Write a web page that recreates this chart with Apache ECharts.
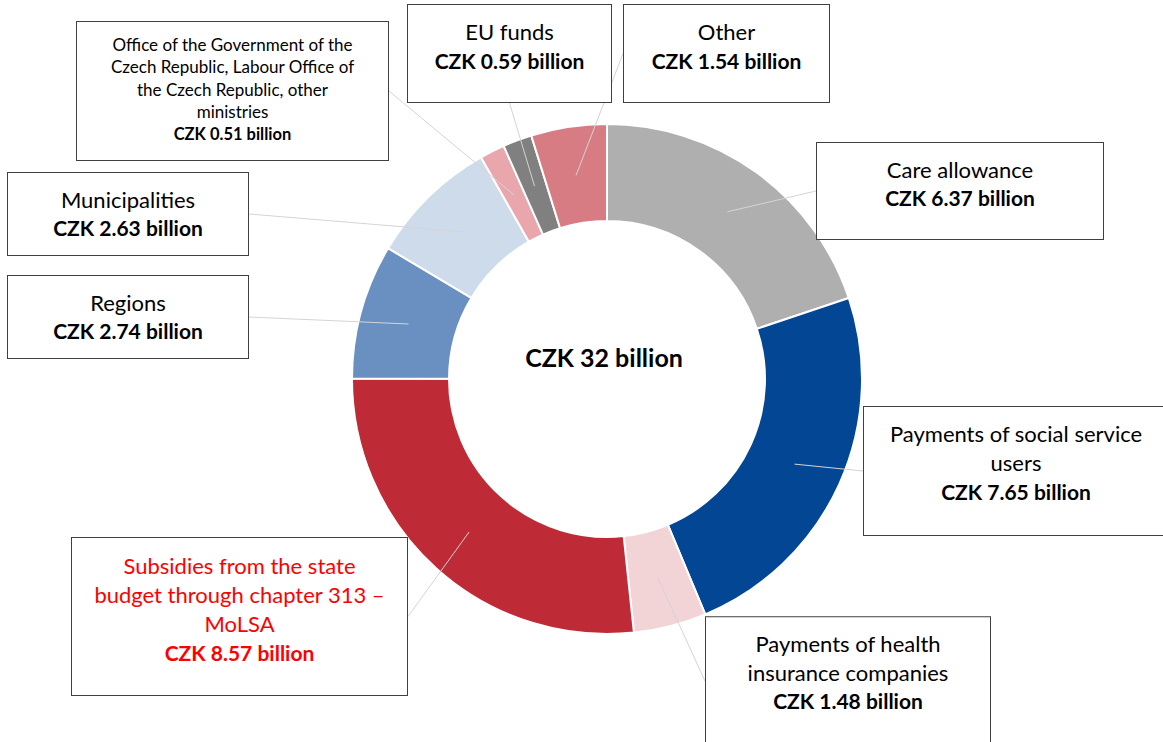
<!DOCTYPE html>
<html>
<head>
<meta charset="utf-8">
<script src="https://cdn.jsdelivr.net/npm/echarts@6/dist/echarts.min.js"></script>
<style>
html,body{margin:0;padding:0;background:#fff;}
#chart{width:1163px;height:742px;}
</style>
</head>
<body>
<div id="chart"></div>
<script>
// ---- data ----
const categories = [
  'Care allowance',
  'Payments of social service\nusers',
  'Payments of health\ninsurance companies',
  'Subsidies from the state\nbudget through chapter 313 –\nMoLSA',
  'Regions',
  'Municipalities',
  'Office of the Government of the\nCzech Republic, Labour Office of\nthe Czech Republic, other\nministries',
  'EU funds',
  'Other'
];
const values = [6.37, 7.65, 1.48, 8.57, 2.74, 2.63, 0.51, 0.59, 1.54];
const totalLabel = 'CZK 32 billion';

// ---- styles / layout ----
const colors = ['#afafaf', '#034694', '#f2d3d6', '#be2a36', '#6a8fc1', '#cddbea', '#e9a7ad', '#808080', '#d77c83'];
// label box: center x, center y, outer width, padding top, padding bottom, line height, font sizes, text color
const boxes = [
  {cx: 960,   cy: 191,   w: 286, pt: 12, pb: 28, lh: 28,   fs: 22, fb: 21, c: '#000'},
  {cx: 1016,  cy: 471,   w: 304, pt: 12, pb: 29, lh: 29,   fs: 22, fb: 21, c: '#000'},
  {cx: 848,   cy: 681,   w: 284, pt: 12, pb: 30, lh: 28.5, fs: 22, fb: 21, c: '#000'},
  {cx: 239.5, cy: 616.5, w: 335, pt: 13, pb: 28, lh: 29,   fs: 22, fb: 21, c: '#ff0000'},
  {cx: 128,   cy: 317,   w: 240, pt: 12, pb: 14, lh: 28,   fs: 22, fb: 21, c: '#000'},
  {cx: 128,   cy: 214,   w: 240, pt: 12, pb: 14, lh: 28,   fs: 22, fb: 21, c: '#000'},
  {cx: 232.5, cy: 91,    w: 311, pt: 11, pb: 14.5, lh: 22.5, fs: 17, fb: 16.5, c: '#000'},
  {cx: 509.5, cy: 53.5,  w: 203, pt: 12, pb: 27, lh: 29,   fs: 22, fb: 21, c: '#000'},
  {cx: 726.5, cy: 53.5,  w: 205, pt: 12, pb: 27, lh: 29,   fs: 22, fb: 21, c: '#000'}
];
const FONT = 'Lato, "Open Sans", sans-serif';
const center = [607, 379];

const ringData = categories.map((n, i) => ({
  name: n, value: values[i], itemStyle: {color: colors[i]}
}));

const labelData = categories.map((n, i) => {
  const b = boxes[i];
  return {
    name: n,
    value: values[i],
    label: {
      width: b.w,
      padding: [b.pt, 0, b.pb, 0],
      rich: {
        n: {fontSize: b.fs, fontFamily: FONT, color: b.c, lineHeight: b.lh, align: 'center'},
        v: {fontSize: b.fb, fontFamily: FONT, color: b.c, lineHeight: b.lh, fontWeight: 'bold', align: 'center'}
      }
    }
  };
});

const chart = echarts.init(document.getElementById('chart'), null, {renderer: 'svg'});
chart.setOption({
  animation: false,
  backgroundColor: '#fff',
  series: [
    {
      type: 'pie',
      z: 2,
      center: center,
      radius: [158, 255],
      startAngle: 90,
      clockwise: true,
      silent: true,
      avoidLabelOverlap: false,
      label: {show: false},
      labelLine: {show: false},
      itemStyle: {borderColor: '#fff', borderWidth: 2},
      data: ringData
    },
    {
      type: 'pie',
      z: 5,
      center: center,
      radius: [0, 206],
      startAngle: 90,
      clockwise: true,
      silent: true,
      avoidLabelOverlap: false,
      itemStyle: {color: 'rgba(0,0,0,0)', borderWidth: 0},
      label: {
        show: true,
        position: 'outside',
        align: 'center',
        backgroundColor: '#fff',
        borderColor: '#404040',
        borderWidth: 1,
        formatter: p => {
          const lines = p.name.split('\n').map(l => '{n|' + l + '}');
          lines.push('{v|CZK ' + p.value.toFixed(2) + ' billion}');
          return lines.join('\n');
        }
      },
      labelLine: {show: true, length: 10, length2: 0, lineStyle: {color: '#d4d4d4', width: 1}},
      labelLayout: p => {
        const b = boxes[p.dataIndex];
        return {x: b.cx, y: b.cy, align: 'center', verticalAlign: 'middle'};
      },
      data: labelData
    }
  ],
  graphic: [{
    type: 'text',
    x: 604, y: 357,
    style: {text: totalLabel, fill: '#000', font: 'bold 25px ' + FONT, textAlign: 'center', textVerticalAlign: 'middle'}
  }]
});
</script>
</body>
</html>
